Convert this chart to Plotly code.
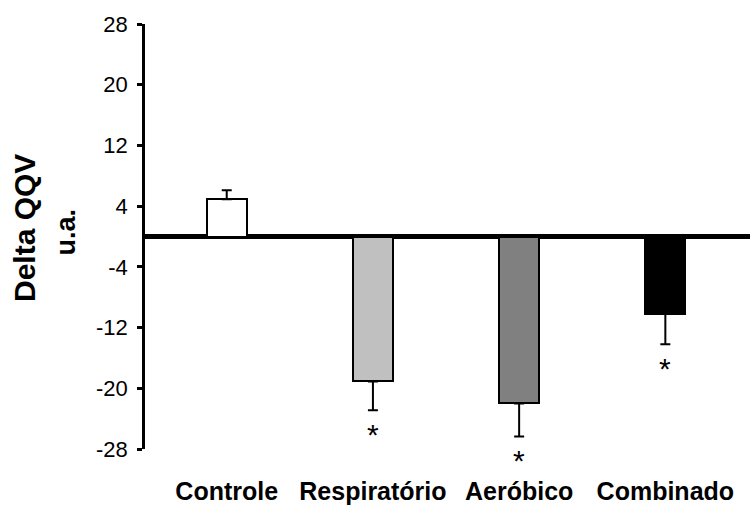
import plotly.graph_objects as go

# Group means, standard errors and significance marks
groups = ["Controle", "Respiratório", "Aeróbico", "Combinado"]
delta_qqv = [4.9, -19.1, -22.0, -10.2]
std_err = [1.2, 3.8, 4.35, 4.0]
signif = ["", "*", "*", "*"]
y_ticks = [-28, -20, -12, -4, 4, 12, 20, 28]

bar_colors = ["#ffffff", "#c0c0c0", "#808080", "#000000"]
FONT = "Arial, Liberation Sans, sans-serif"

# one-sided error bars, pointing away from zero
err_up = [e if v >= 0 else 0 for v, e in zip(delta_qqv, std_err)]
err_down = [e if v < 0 else 0 for v, e in zip(delta_qqv, std_err)]

fig = go.Figure()
fig.add_trace(go.Bar(
    x=groups,
    y=delta_qqv,
    width=0.274,
    marker=dict(color=bar_colors, line=dict(color="black", width=2)),
    error_y=dict(type="data", symmetric=False, array=err_up, arrayminus=err_down,
                 color="black", thickness=2, width=5),
    showlegend=False,
))

# significance asterisks under the error bars
for g, v, e, s in zip(groups, delta_qqv, std_err, signif):
    if s:
        fig.add_annotation(x=g, y=v - e, xref="x", yref="y", text=s,
                           showarrow=False, yanchor="top", yshift=-6,
                           font=dict(family=FONT, size=30, color="black"))

# y-axis title in two rotated lines
fig.add_annotation(x=-0.2, y=0.52, xref="paper", yref="paper", text="<b>Delta QQV</b>",
                   textangle=-90, showarrow=False, xanchor="center", yanchor="middle",
                   font=dict(family=FONT, size=30, color="black"))
fig.add_annotation(x=-0.13, y=0.51, xref="paper", yref="paper", text="<b>u.a.</b>",
                   textangle=-90, showarrow=False, xanchor="center", yanchor="middle",
                   font=dict(family=FONT, size=27, color="black"))

fig.update_layout(
    width=754, height=509,
    margin=dict(l=145, r=4, t=24, b=60),
    paper_bgcolor="white", plot_bgcolor="white",
    bargap=0,
    xaxis=dict(
        type="category", range=[-0.559, 3.579],
        showline=False, showgrid=False, zeroline=False, ticks="",
        tickfont=dict(family=FONT, size=25, color="black", weight="bold"),
        ticklabelstandoff=25,
    ),
    yaxis=dict(
        range=[-28, 28], autorange=False,
        tickvals=y_ticks, ticktext=[str(t) for t in y_ticks],
        showline=True, linecolor="black", linewidth=2.5,
        ticks="outside", ticklen=5, tickwidth=2.5, tickcolor="black",
        tickfont=dict(family=FONT, size=22, color="black"),
        ticklabelstandoff=5,
        showgrid=False,
        zeroline=True, zerolinecolor="black", zerolinewidth=5,
        layer="above traces",
    ),
)

fig.write_html("out.html")
